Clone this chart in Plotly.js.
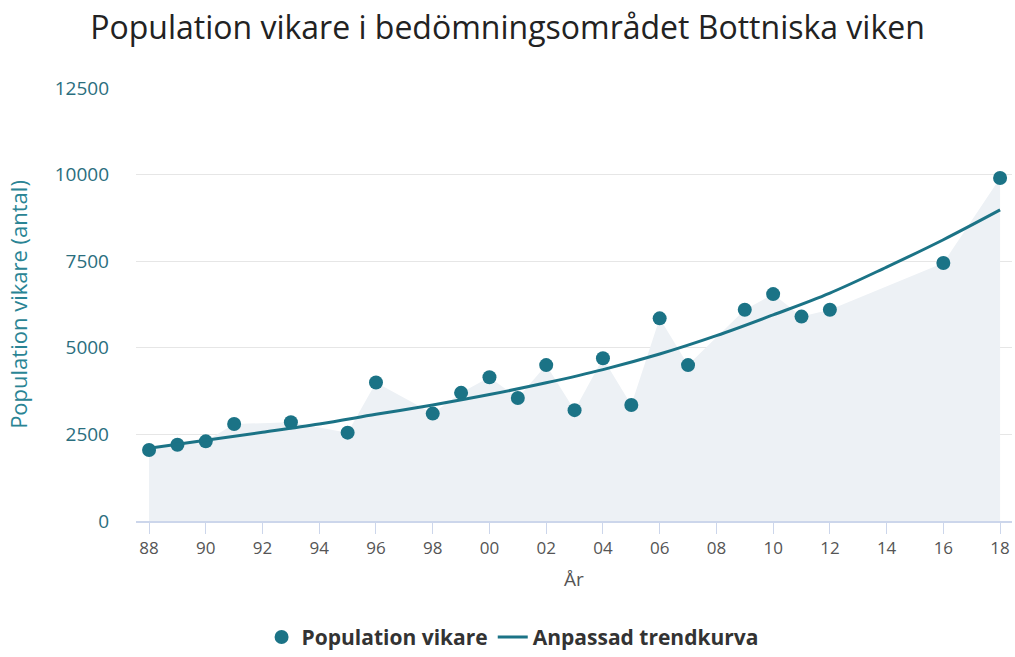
<!DOCTYPE html>
<html><head><meta charset="utf-8">
<script src="https://cdn.plot.ly/plotly-3.0.1.min.js"></script>
<style>html,body{margin:0;padding:0;background:#fff}#chart{width:1015px;height:657px}</style>
</head><body><div id="chart"></div>
<script>
const years = [1988,1989,1990,1991,1993,1995,1996,1998,1999,2000,2001,2002,2003,2004,2005,2006,2007,2009,2010,2011,2012,2016,2018];
const population = [2050,2200,2300,2800,2850,2550,4000,3100,3700,4150,3550,4500,3200,4700,3350,5850,4500,6100,6550,5900,6100,7450,9900];
const trendYears = [1988,1990,1992,1994,1996,1998,2000,2002,2004,2006,2008,2010,2012,2014,2016,2018];
const trendValues = [2100,2330,2560,2800,3080,3350,3650,3990,4370,4820,5350,5950,6580,7330,8120,8980];
const tickYears = [1988,1990,1992,1994,1996,1998,2000,2002,2004,2006,2008,2010,2012,2014,2016,2018];
const tickLabels = ["88","90","92","94","96","98","00","02","04","06","08","10","12","14","16","18"];
const yTicks = [0,2500,5000,7500,10000,12500];
const yTickLabels = ["0","2500","5000","7500","10000","12500"];

const teal = '#1b7386';
const font = '"Open Sans", "Noto Sans", sans-serif';

const traces = [
  {x: years, y: population, type:'scatter', mode:'lines', fill:'tozeroy',
   fillcolor:'#edf1f5', line:{width:0, color:'#edf1f5'}, showlegend:false, hoverinfo:'skip'},
  {x: years, y: population, type:'scatter', mode:'markers', name:'Population vikare',
   marker:{color:teal, size:14}},
  {x: trendYears, y: trendValues, type:'scatter', mode:'lines', name:'Anpassad trendkurva',
   line:{color:teal, width:3, shape:'spline'}}
];

const layout = {
  width:1015, height:657,
  margin:{l:136, r:3, t:88, b:136, autoexpand:false},
  paper_bgcolor:'#fff', plot_bgcolor:'#fff',
  font:{family:font, color:'#333'},
  title:{text:'Population vikare i bedömningsområdet Bottniska viken', x:0.5, xanchor:'center', y:0.958, yanchor:'middle',
    font:{size:32, color:'#222', family:font}},
  xaxis:{range:[1987.54, 2018.42], tickvals:tickYears, ticktext:tickLabels, automargin:false,
    showgrid:false, zeroline:false, showline:true, linecolor:'#ccd6eb', linewidth:2,
    ticks:'outside', ticklen:11, tickcolor:'#ccd6eb', tickwidth:1,
    tickfont:{size:17, color:'#555', family:font},
    title:{text:'År', font:{size:19, color:'#555', family:font}, standoff:14}},
  yaxis:{range:[0,12500], tickvals:yTicks, ticktext:yTickLabels, automargin:false,
    showgrid:true, gridcolor:'#e6e6e6', gridwidth:1, zeroline:false, showline:false,
    tickfont:{size:19, color:'#2a6e7e', family:font}, ticks:'', ticklabelstandoff:26,
    title:{text:'Population vikare (antal)', font:{size:22, color:'#2a8494', family:font}, standoff:20}},
  legend:{orientation:'h', xref:'container', yref:'container', x:0.505, xanchor:'center', y:0.03, yanchor:'middle',
    font:{size:21, color:'#333', family:font, weight:'bold'}, itemwidth:30},
  showlegend:true
};
Plotly.newPlot('chart', traces, layout, {displayModeBar:false, staticPlot:true});
</script></body></html>
